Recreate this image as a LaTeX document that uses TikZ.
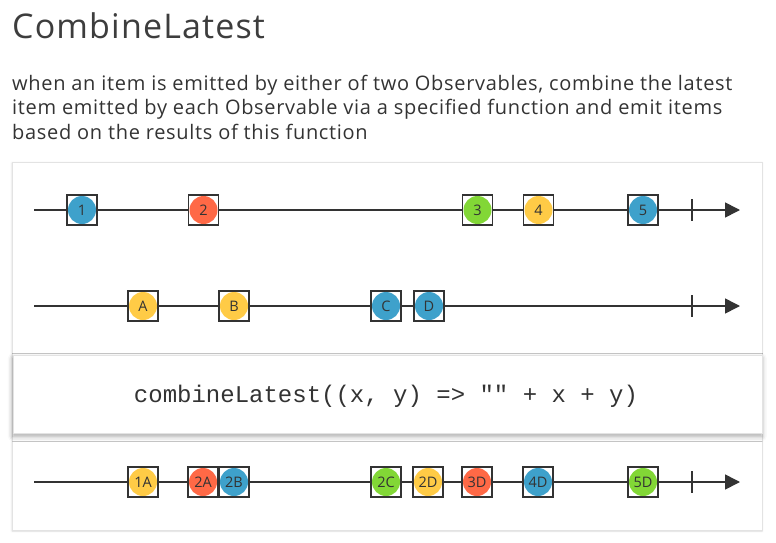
\documentclass[tikz,border=0pt]{standalone}
\usepackage{fontspec}
\setmainfont{Open Sans}[LetterSpace=3.4]
\newfontfamily\labelfont{Open Sans}
\newfontfamily\codefont{Liberation Mono}
\usetikzlibrary{arrows.meta,shadows.blur}
\definecolor{ink}{HTML}{333333}
\definecolor{mblue}{HTML}{3EA1CB}
\definecolor{mred}{HTML}{FF6946}
\definecolor{mgreen}{HTML}{82D736}
\definecolor{myellow}{HTML}{FFCB46}
\definecolor{cardline}{HTML}{E3E3E3}
\tikzset{
  marble/.style={rectangle, draw=ink, fill=white, line width=1.5pt,
    minimum size=30pt, inner sep=0pt, text=ink,
    font=\labelfont\fontsize{14.5}{14.5}\selectfont,
    path picture={\fill[#1] (path picture bounding box.center) circle (14pt);}},
  timeline/.style={draw=ink, line width=1.6pt, -{Triangle[length=15pt,width=15pt]}},
  endtick/.style={draw=ink, line width=1.6pt},
  card/.style={draw=cardline, fill=white, line width=0.8pt,
    blur shadow={shadow xshift=0pt, shadow yshift=-1pt, shadow blur radius=2pt, shadow opacity=15}},
  fbox/.style={draw=cardline, fill=white, line width=0.6pt,
    blur shadow={shadow xshift=0pt, shadow yshift=-3pt, shadow blur radius=5pt, shadow opacity=35}},
  titletext/.style={anchor=base west, inner sep=0pt, text=ink!95!white, font=\fontsize{34}{40}\selectfont},
  subtext/.style={anchor=base west, inner sep=0pt, text=ink, font=\fontsize{20}{24}\selectfont},
}
\begin{document}
\begin{tikzpicture}[x=1pt,y=-1pt]
\useasboundingbox (0,0) rectangle (776,543);
\node[titletext] (title) at (12,38) {CombineLatest};
\node[subtext] (sub1) at (12,90) {when an item is emitted by either of two Observables, combine the latest};
\node[subtext] (sub2) at (12,114.5) {item emitted by each Observable via a specified function and emit items};
\node[subtext] (sub3) at (12,139) {based on the results of this function};

\path[card] (12,162) rectangle (762,530);

% row 1
\coordinate (s1) at (34,210);
\coordinate (e1) at (740,210);
\draw[timeline] (s1) -- (e1);
\coordinate (t1a) at (692,199);
\coordinate (t1b) at (692,221);
\draw[endtick] (t1a) -- (t1b);
\node[marble=mblue] (m1) at (82,210) {1};
\node[marble=mred] (m2) at (203.5,210) {2};
\node[marble=mgreen] (m3) at (477.5,210) {3};
\node[marble=myellow] (m4) at (538.5,210) {4};
\node[marble=mblue] (m5) at (643,210) {5};

% row 2
\coordinate (s2) at (34,306);
\coordinate (e2) at (740,306);
\draw[timeline] (s2) -- (e2);
\coordinate (t2a) at (692,295);
\coordinate (t2b) at (692,317);
\draw[endtick] (t2a) -- (t2b);
\node[marble=myellow] (mA) at (143,306) {A};
\node[marble=myellow] (mB) at (234,306) {B};
\node[marble=mblue] (mC) at (386,306) {C};
\node[marble=mblue] (mD) at (429,306) {D};

% function box
\node[fbox, minimum width=749pt, minimum height=78pt, inner sep=0pt, anchor=north west] (fn) at (12.5,355) {};
\node[text=ink, font=\codefont\fontsize{24}{24}\selectfont, inner sep=0pt] (code) at (386,396) {combineLatest((x, y) => "" + x + y)};

% row 3
\coordinate (s3) at (34,482);
\coordinate (e3) at (740,482);
\draw[timeline] (s3) -- (e3);
\coordinate (t3a) at (692,471);
\coordinate (t3b) at (692,493);
\draw[endtick] (t3a) -- (t3b);
\node[marble=myellow] (r1A) at (143,482) {1A};
\node[marble=mred] (r2A) at (203,482) {2A};
\node[marble=mblue] (r2B) at (234,482) {2B};
\node[marble=mgreen] (r2C) at (386,482) {2C};
\node[marble=myellow] (r2D) at (428,482) {2D};
\node[marble=mred] (r3D) at (477,482) {3D};
\node[marble=mblue] (r4D) at (538,482) {4D};
\node[marble=mgreen] (r5D) at (643,482) {5D};
\end{tikzpicture}
\end{document}
